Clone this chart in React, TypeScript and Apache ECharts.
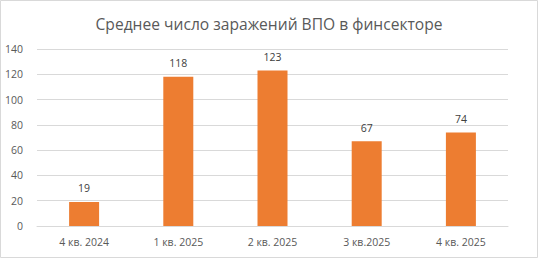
import React, { useEffect, useRef } from "react";
import * as echarts from "echarts";

const categories = ["4 кв. 2024", "1 кв. 2025", "2 кв. 2025", "3 кв.2025", "4 кв. 2025"];
const values = [19, 118, 123, 67, 74];
const titleText = "Среднее число заражений ВПО в финсекторе";

export default function App() {
  const ref = useRef<HTMLDivElement>(null);
  useEffect(() => {
    document.body.style.margin = "0";
    const chart = echarts.init(ref.current!, null, { renderer: "svg" });
    chart.setOption({
      animation: false,
      backgroundColor: "#ffffff",
      textStyle: { fontFamily: "Open Sans, Liberation Sans, sans-serif" },
      title: {
        text: titleText,
        left: "center",
        top: 11,
        textStyle: { fontSize: 15.6, fontWeight: "normal", color: "#595959", fontFamily: "Open Sans, sans-serif" },
      },
      graphic: [
        {
          type: "rect",
          shape: { x: 0.5, y: 0.5, width: 537, height: 257 },
          style: { fill: "none", stroke: "#d9d9d9", lineWidth: 1 },
          silent: true,
        },
      ],
      grid: { left: 37, right: 30, top: 49, bottom: 32, containLabel: false },
      xAxis: {
        type: "category",
        data: categories,
        axisLine: { show: true, lineStyle: { color: "#d9d9d9" } },
        axisTick: { show: false },
        axisLabel: { color: "#595959", fontSize: 10.5, margin: 10 },
      },
      yAxis: {
        type: "value",
        min: 0,
        max: 140,
        interval: 20,
        axisLine: { show: false },
        axisTick: { show: false },
        splitLine: { lineStyle: { color: "#d9d9d9" } },
        axisLabel: { color: "#595959", fontSize: 10.5, margin: 14 },
      },
      series: [
        {
          type: "bar",
          data: values,
          barWidth: 30,
          itemStyle: { color: "#ED7D31" },
          label: { show: true, position: "top", color: "#404040", fontSize: 10.5, distance: 8 },
        },
      ],
    });
    return () => chart.dispose();
  }, []);
  return <div ref={ref} style={{ width: 538, height: 258 }} />;
}
